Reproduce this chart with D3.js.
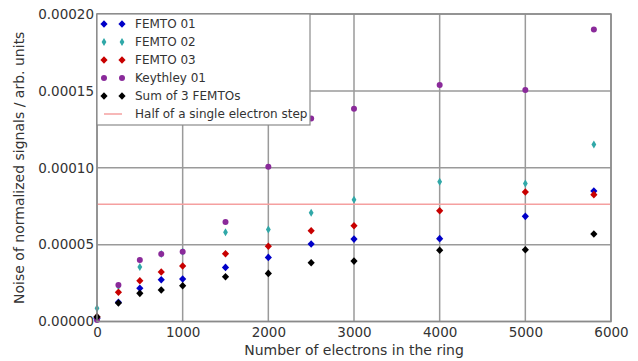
<!DOCTYPE html>
<html><head><meta charset="utf-8">
<script src="https://cdn.jsdelivr.net/npm/d3@7"></script>
<style>body{margin:0;background:#fff}svg{display:block}text{font-family:"DejaVu Sans",sans-serif;fill:#333}</style>
</head><body><svg id="c" width="638" height="361"></svg>
<script>
const electrons = [0, 250, 500, 750, 1000, 1500, 2000, 2500, 3000, 4000, 5000, 5800];
const femto01 = [2.0e-6, 1.25e-5, 2.16e-5, 2.72e-5, 2.76e-5, 3.52e-5, 4.17e-5, 5.04e-5, 5.36e-5, 5.39e-5, 6.84e-5, 8.49e-5];
const femto02 = [8.6e-6, 2.3e-5, 3.54e-5, 4.39e-5, 4.54e-5, 5.8e-5, 5.99e-5, 7.07e-5, 7.92e-5, 9.09e-5, 8.98e-5, 1.152e-4];
const femto03 = [3.0e-6, 1.90e-5, 2.65e-5, 3.22e-5, 3.61e-5, 4.41e-5, 4.89e-5, 5.9e-5, 6.23e-5, 7.2e-5, 8.42e-5, 8.25e-5];
const keythley01 = [1.0e-6, 2.37e-5, 4.0e-5, 4.39e-5, 4.54e-5, 6.47e-5, 1.007e-4, 1.32e-4, 1.384e-4, 1.538e-4, 1.505e-4, 1.90e-4];
const sumFemtos = [3.0e-6, 1.20e-5, 1.83e-5, 2.05e-5, 2.33e-5, 2.91e-5, 3.13e-5, 3.82e-5, 3.93e-5, 4.63e-5, 4.67e-5, 5.69e-5];
const halfStep = 7.62e-5;
const xTicks = [0, 1000, 2000, 3000, 4000, 5000, 6000];
const yTicks = [0, 0.00005, 0.0001, 0.00015, 0.0002];
const seriesNames = ["FEMTO 01", "FEMTO 02", "FEMTO 03", "Keythley 01", "Sum of 3 FEMTOs"];
const lineName = "Half of a single electron step";

const colors = ["#0000c8", "#30a8a8", "#c80000", "#8a2a9a", "#000000"];
const shapes = ["D", "d", "D", "o", "D"];
const seriesVals = [femto01, femto02, femto03, keythley01, sumFemtos];

const svg = d3.select("#c");
const L = 97, R = 611, T = 14, B = 321.5;
const x = d3.scaleLinear().domain([0, 6000]).range([L, R]);
const y = d3.scaleLinear().domain([0, 0.0002]).range([B, T]);

// grid
const g = svg.append("g");
g.selectAll(".gx").data(xTicks).join("line")
  .attr("x1", d => x(d)).attr("x2", d => x(d)).attr("y1", T).attr("y2", B)
  .attr("stroke", "#9a9a9a").attr("stroke-width", 1.5);
g.selectAll(".gy").data(yTicks).join("line")
  .attr("x1", L).attr("x2", R).attr("y1", d => y(d)).attr("y2", d => y(d))
  .attr("stroke", "#9a9a9a").attr("stroke-width", 1.5);

// axes
const xa = svg.append("g").attr("transform", `translate(0,${B})`)
  .call(d3.axisBottom(x).tickValues(xTicks).tickSize(0).tickPadding(6).tickFormat(d3.format("d")));
const ya = svg.append("g").attr("transform", `translate(${L},0)`)
  .call(d3.axisLeft(y).tickValues(yTicks).tickSize(0).tickPadding(3).tickFormat(d3.format(".5f")));
[xa, ya].forEach(a => { a.select(".domain").remove(); a.selectAll("text").attr("font-size", 13.5).attr("fill", "#333").attr("font-family", "DejaVu Sans"); });

// half step line
svg.append("line").attr("x1", L).attr("x2", R).attr("y1", y(halfStep)).attr("y2", y(halfStep))
  .attr("stroke", "#f5a0a0").attr("stroke-width", 1.5);

function marker(sel, shape, color) {
  if (shape === "o") {
    sel.append("circle").attr("r", 3).attr("fill", color);
  } else if (shape === "d") {
    sel.append("path").attr("d", "M0,-4L2.4,0L0,4L-2.4,0Z").attr("fill", color);
  } else {
    sel.append("path").attr("d", "M0,-3.8L3.6,0L0,3.8L-3.6,0Z").attr("fill", color);
  }
}

seriesVals.forEach((vals, i) => {
  const pts = svg.append("g").selectAll("g").data(electrons.map((e, j) => [e, vals[j]])).join("g")
    .attr("transform", d => `translate(${x(d[0])},${y(d[1])})`);
  pts.each(function() { marker(d3.select(this), shapes[i], colors[i]); });
});

// frame
svg.append("rect").attr("x", L).attr("y", T).attr("width", R - L).attr("height", B - T)
  .attr("fill", "none").attr("stroke", "#8a8a8a").attr("stroke-width", 1.5);

// legend
const lg = svg.append("g");
lg.append("rect").attr("x", L).attr("y", T).attr("width", 213).attr("height", 111)
  .attr("fill", "#fff").attr("stroke", "#8a8a8a").attr("stroke-width", 1.2);
seriesNames.forEach((n, i) => {
  const yy = T + 10 + i * 18;
  [104, 122].forEach(xx => {
    const m = lg.append("g").attr("transform", `translate(${xx},${yy})`);
    marker(m, shapes[i], colors[i]);
  });
  lg.append("text").attr("x", 135).attr("y", yy).attr("dy", "0.35em").attr("font-size", 12).text(n);
});
{
  const yy = T + 10 + 5 * 18;
  lg.append("line").attr("x1", 104).attr("x2", 122).attr("y1", yy).attr("y2", yy)
    .attr("stroke", "#f5a0a0").attr("stroke-width", 1.5);
  lg.append("text").attr("x", 135).attr("y", yy).attr("dy", "0.35em").attr("font-size", 12).text(lineName);
}

// axis labels
svg.append("text").attr("x", (L + R) / 2).attr("y", 355).attr("text-anchor", "middle")
  .attr("font-size", 14).text("Number of electrons in the ring");
svg.append("text").attr("transform", `translate(24,${(T + B) / 2}) rotate(-90)`).attr("text-anchor", "middle")
  .attr("font-size", 14).text("Noise of normalized signals / arb. units");
</script></body></html>
